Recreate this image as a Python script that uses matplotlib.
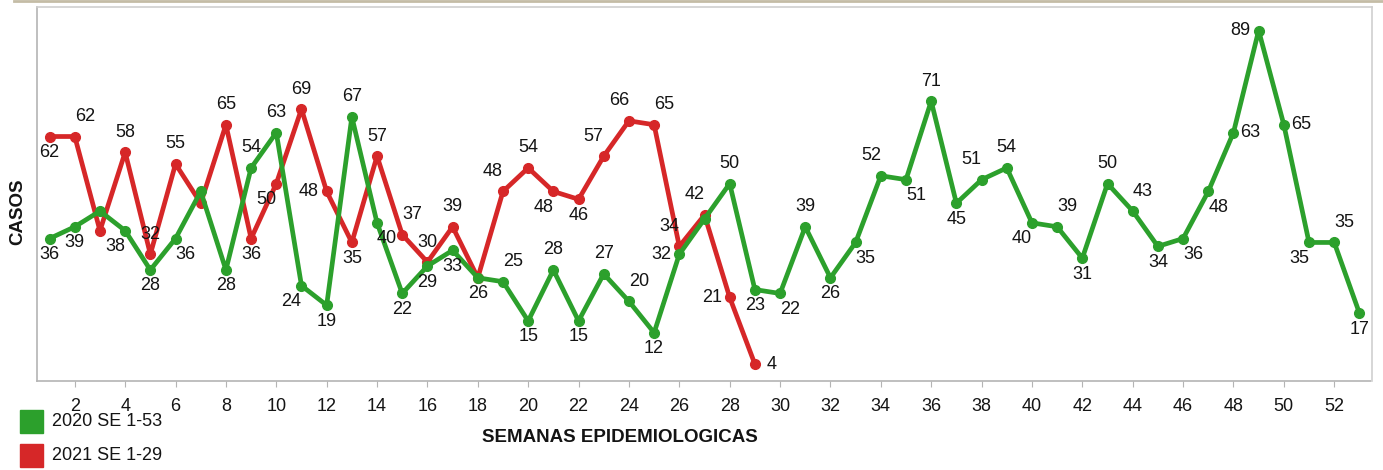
import numpy as np
import matplotlib
matplotlib.use("Agg")
import matplotlib.pyplot as plt
from matplotlib.patches import Rectangle
from matplotlib.lines import Line2D

plt.rcParams['font.family'] = ['Liberation Sans', 'DejaVu Sans']

# semanas epidemiologicas
semanas_2020 = list(range(1, 54))
casos_2020 = [36, 39, 43, 38, 28, 36, 48, 28, 54, 63,
              24, 19, 67, 40, 22, 29, 33, 26, 25, 15,
              28, 15, 27, 20, 12, 32, 41, 50, 23, 22,
              39, 26, 35, 52, 51, 71, 45, 51, 54, 40,
              39, 31, 50, 43, 34, 36, 48, 63, 89, 65,
              35, 35, 17]

semanas_2021 = list(range(1, 30))
casos_2021 = [62, 62, 38, 58, 32, 55, 45, 65, 36, 50,
              69, 48, 35, 57, 37, 30, 39, 26, 48, 54,
              48, 46, 57, 66, 65, 34, 42, 21, 4]

series_nombres = ["2020 SE 1-53", "2021 SE 1-29"]
colores = ["#2ca02c", "#d62728"]

# posicion de cada etiqueta (None = oculta)
pos_2020 = ['b', 'b', None, 'bl', 'b', 'br', None, 'b', 'a', 'a',
            'bl', 'b', 'a', 'br', 'b', 'b', 'b', 'b', 'ar', 'b',
            'a', 'b', 'a', 'ar', 'b', 'l', None, 'a', 'b', 'br',
            'a', 'b', 'br', 'al', 'br', 'a', 'b', 'al', 'a', 'bl',
            'ar', 'b', 'a', 'ar', 'b', 'br', 'br', 'r', 'l', 'r',
            'bl', 'ar', 'b']
pos_2021 = ['b', 'ar', None, 'a', 'a', 'a', None, 'a', 'b', 'bl',
            'a', 'l', 'b', 'a', 'ar', 'a', 'a', None, 'al', 'a',
            'bl', 'b', 'al', 'al', 'ar', 'al', 'al', 'l', 'r']

offsets = {'a': (0, 20), 'b': (0, -16), 'ar': (10, 20), 'al': (-10, 20),
           'br': (10, -16), 'bl': (-10, -16), 'l': (-18, 0), 'r': (17, 0)}

fig = plt.figure(figsize=(13.83, 4.70), dpi=100)
ax = fig.add_axes([37 / 1383, 89 / 470, (1372 - 37) / 1383, (381 - 7) / 470])

gris = "#b4b4b4"
texto = "#141414"


def dibujar(x, y, pos, color, z):
    ax.plot(x, y, color=color, lw=3.4, marker='o', ms=7, zorder=z,
            solid_joinstyle='round', solid_capstyle='round')
    for xi, yi, p in zip(x, y, pos):
        if p is None:
            continue
        dx, dy = offsets[p]
        ax.annotate(str(yi), (xi, yi), xytext=(dx, dy), textcoords='offset pixels',
                    ha='center', va='center', fontsize=13, color=texto, zorder=5)


dibujar(semanas_2021, casos_2021, pos_2021, colores[1], 2)
dibujar(semanas_2020, casos_2020, pos_2020, colores[0], 3)

ax.set_xlim(0.5, 53.5)
ax.set_ylim(-0.3, 95)
ax.set_xticks(range(2, 54, 2))
ax.tick_params(axis='x', length=4, color=gris, labelsize=13, pad=8, labelcolor=texto)
ax.set_yticks([])
for s in ax.spines.values():
    s.set_color(gris)
    s.set_linewidth(1.2)
ax.spines['bottom'].set_linestyle((0, (2, 1)))
ax.spines['top'].set_color('#cfcfcf')
ax.spines['right'].set_color('#cfcfcf')

fig.text(18 / 1383, 1 - 212 / 470, "CASOS", rotation=90, ha='center', va='center',
         fontsize=13.5, fontweight='bold', color=texto)
fig.text(620 / 1383, 1 - 438 / 470, "SEMANAS EPIDEMIOLOGICAS", ha='center', va='center',
         fontsize=13.5, fontweight='bold', color=texto)

# leyenda
for i, (nombre, c) in enumerate(zip(series_nombres, colores)):
    ytop = 410 + i * 34
    fig.add_artist(Rectangle((20 / 1383, 1 - (ytop + 23) / 470), 23 / 1383, 23 / 470,
                             transform=fig.transFigure, color=c))
    fig.text(52 / 1383, 1 - (ytop + 12) / 470, nombre, ha='left', va='center',
             fontsize=13, color=texto)

# linea superior
fig.add_artist(Line2D([14 / 1383, 1], [1 - 1 / 470, 1 - 1 / 470], transform=fig.transFigure,
                      color='#c4bca6', lw=2))

fig.savefig("out.png", dpi=100)
